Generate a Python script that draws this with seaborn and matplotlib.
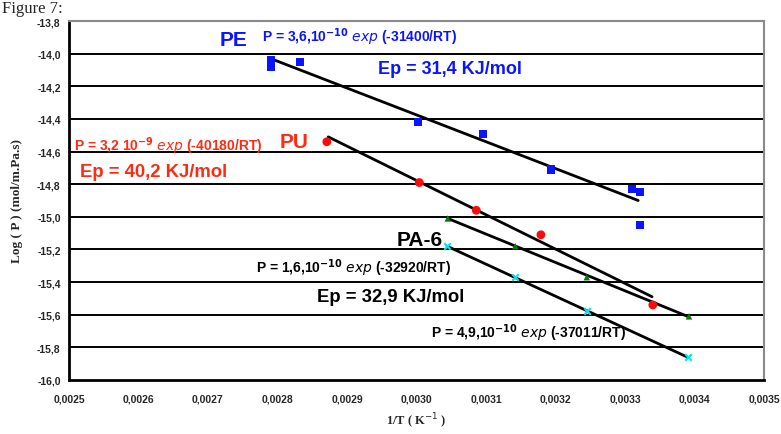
import numpy as np
import pandas as pd
import matplotlib
matplotlib.use("Agg")
import matplotlib.pyplot as plt
from matplotlib.ticker import FuncFormatter
import seaborn as sns

# data (1/T in K^-1, log P)
pe_x = [0.00279, 0.00279, 0.002832, 0.003002, 0.003096, 0.003194, 0.00331, 0.003322, 0.003322]
pe_y = [-14.04, -14.08, -14.05, -14.42, -14.49, -14.71, -14.83, -14.85, -15.05]
pu_x = [0.002871, 0.003004, 0.003086, 0.003179, 0.00334]
pu_y = [-14.54, -14.79, -14.96, -15.11, -15.54]
pa_x = [0.003045, 0.003142, 0.003245, 0.003392]
pa_y = [-15.01, -15.18, -15.37, -15.61]
cy_x = [0.003044, 0.003142, 0.003245, 0.00339]
cy_y = [-15.18, -15.37, -15.58, -15.86]

# trend line end points
pe_fit_x = [0.00279, 0.003319]
pe_fit_y = [-14.03, -14.90]
pu_fit_x = [0.002873, 0.003339]
pu_fit_y = [-14.51, -15.49]
pa_fit_x = [0.003045, 0.00339]
pa_fit_y = [-15.01, -15.61]
cy_fit_x = [0.003044, 0.00339]
cy_fit_y = [-15.18, -15.86]

sns.set_style("white")
plt.rcParams['font.family'] = ['Liberation Sans', 'DejaVu Sans']

fig = plt.figure(figsize=(7.81, 4.35), dpi=100)
ax = fig.add_axes([69 / 781, 1 - 381 / 435, 695 / 781, 359 / 435])

blue = "#0a14ff"
red = "#ff2a10"

# horizontal grid lines
for yv in np.arange(-15.8, -13.95, 0.2):
    ax.axhline(yv, color="black", lw=1.4, zorder=0)

# trend lines
for fx, fy in [(pe_fit_x, pe_fit_y), (pu_fit_x, pu_fit_y), (pa_fit_x, pa_fit_y), (cy_fit_x, cy_fit_y)]:
    sns.lineplot(x=fx, y=fy, color="black", lw=2, ax=ax, zorder=2)

sns.scatterplot(x=pe_x, y=pe_y, marker="s", color=blue, s=34, edgecolor="none", ax=ax, zorder=3)
sns.scatterplot(x=pu_x, y=pu_y, marker="o", color="#ff0a0a", s=40, edgecolor="none", ax=ax, zorder=3)
sns.scatterplot(x=pa_x, y=pa_y, marker="^", color="#0a7a0a", s=22, edgecolor="none", ax=ax, zorder=3)
sns.scatterplot(x=cy_x, y=cy_y, marker="x", color="#00e5f0", s=22, linewidth=1.5, ax=ax, zorder=3)

ax.set_xlim(0.0025, 0.0035)
ax.set_ylim(-16.0, -13.8)
ax.set_xticks(np.arange(0.0025, 0.00351, 0.0001))
ax.set_yticks(np.arange(-16.0, -13.79, 0.2))
ax.xaxis.set_major_formatter(FuncFormatter(lambda v, p: f"{v:.4f}".replace(".", ",")))
ax.yaxis.set_major_formatter(FuncFormatter(lambda v, p: f"{v:.1f}".replace(".", ",")))
ax.tick_params(axis="both", direction="out", length=4, width=1.5, color="black",
               labelsize=7.5, pad=6)
ax.tick_params(axis="y", length=3, pad=3)
for lab in ax.get_xticklabels() + ax.get_yticklabels():
    lab.set_fontweight("bold")

for side in ["left", "bottom"]:
    ax.spines[side].set_color("black")
    ax.spines[side].set_linewidth(2)
for side in ["top", "right"]:
    ax.spines[side].set_color("#8a8a8a")
    ax.spines[side].set_linewidth(1.5)

ax.set_xlabel("1/T ( K$^{-1}$ )", fontsize=9, fontweight="bold", family="Liberation Serif")
ax.xaxis.set_label_coords((416 - 69) / 695, -31 / 359)
ax.set_ylabel("Log ( P ) (mol/m.Pa.s)", fontsize=9.5, fontweight="bold", family="Liberation Serif")
ax.yaxis.set_label_coords(-46 / 695, (381 - 201) / 359)

# annotations (figure pixel coords)
def label(px, py, s, color, size, ha="left"):
    fig.text(px / 781, 1 - py / 435, s, color=color, fontsize=size, fontweight="bold",
             ha=ha, va="center")

label(220, 40, "PE", blue, 15)
label(262, 37, r"P = 3,6,10$^{\mathbf{-10}}$ $\mathbf{\mathit{exp}}$ (-31400/RT)", blue, 10)
label(378, 70, "Ep = 31,4 KJ/mol", blue, 13)
label(74, 146, r"P = 3,2 10$^{\mathbf{-9}}$ $\mathbf{\mathit{exp}}$ (-40180/RT)", red, 10)
label(280, 142, "PU", red, 15)
label(80, 173, "Ep = 40,2 KJ/mol", red, 13.3)
label(397, 241, "PA-6", "black", 15)
label(256, 268, r"P = 1,6,10$^{\mathbf{-10}}$ $\mathbf{\mathit{exp}}$ (-32920/RT)", "black", 10)
label(317, 298, "Ep = 32,9 KJ/mol", "black", 13.3)
label(431, 333, r"P = 4,9,10$^{\mathbf{-10}}$ $\mathbf{\mathit{exp}}$ (-37011/RT)", "black", 10)

fig.text(2 / 781, 1 - 1 / 435, "Figure 7:", fontsize=12, family="Liberation Serif", ha="left", va="top")

fig.savefig("out.png", dpi=100)
